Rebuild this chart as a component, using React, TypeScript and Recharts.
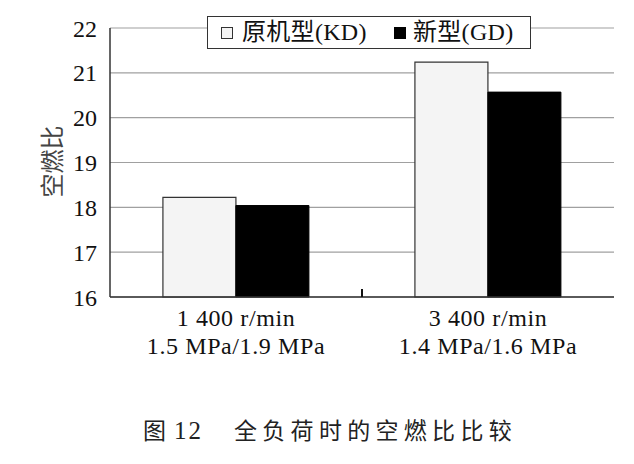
import React from 'react';
import { BarChart, Bar, XAxis, YAxis, CartesianGrid, Legend } from 'recharts';

const speeds = ['1 400 r/min', '3 400 r/min'];
const pressures = ['1.5 MPa/1.9 MPa', '1.4 MPa/1.6 MPa'];
const kdValues = [18.22, 21.24];
const gdValues = [18.04, 20.57];
const yTicks = [16, 17, 18, 19, 20, 21, 22];
const seriesNames = ['原机型(KD)', '新型(GD)'];

const data = speeds.map((s, i) => ({
  name: s,
  pressure: pressures[i],
  kd: kdValues[i],
  gd: gdValues[i],
}));

const SERIF = 'Liberation Serif, Times New Roman, Noto Sans CJK SC, serif';
const CJK = 'Noto Sans CJK SC, Liberation Serif, sans-serif';

const XTick = (props: any) => {
  const { x, y, payload, index, visibleTicksCount } = props;
  const half = payload?.offset ?? 0;
  const showBoundary = index < (visibleTicksCount ?? data.length) - 1;
  const axisY = y - 8;
  return (
    <g>
      {showBoundary && (
        <line x1={x + half} x2={x + half} y1={axisY} y2={axisY - 8} stroke="#111" strokeWidth={2} />
      )}
      <text x={x} y={y} textAnchor="middle" fontFamily={SERIF} fontSize={24} fill="#111" letterSpacing={0.6}>
        <tspan x={x} dy={21}>{payload.value}</tspan>
        <tspan x={x} dy={28}>{pressures[index] ?? data[index]?.pressure}</tspan>
      </text>
    </g>
  );
};

const LegendBox = () => (
  <div
    style={{
      position: 'relative',
      boxSizing: 'border-box',
      width: 324,
      height: 33,
      border: '1.5px solid #333',
      background: '#fff',
      fontFamily: SERIF,
      fontSize: 24,
      color: '#111',
      lineHeight: '30px',
      whiteSpace: 'nowrap',
    }}
  >
    <span style={{ position: 'absolute', left: 13, top: 10, width: 10, height: 10, border: '1px solid #333', background: '#f4f4f4' }} />
    <span style={{ position: 'absolute', left: 34, top: 0, letterSpacing: 0.3 }}>{seriesNames[0]}</span>
    <span style={{ position: 'absolute', left: 186, top: 10, width: 12, height: 12, background: '#000' }} />
    <span style={{ position: 'absolute', left: 205, top: 0, letterSpacing: 0.3 }}>{seriesNames[1]}</span>
  </div>
);

const YLabel = (props: any) => {
  const vb = props.viewBox || { x: 0, y: 0, width: 0, height: 0 };
  const cx = vb.x + 50;
  const cy = vb.y + vb.height / 2 - 1;
  return (
    <text
      x={cx}
      y={cy}
      transform={`rotate(-90 ${cx} ${cy})`}
      textAnchor="middle"
      dominantBaseline="central"
      fontFamily={CJK}
      fontSize={24}
      fill="#444"
    >
      空燃比
    </text>
  );
};

export default function App() {
  return (
    <div style={{ position: 'absolute', left: 0, top: 0, width: 634, height: 464, background: '#fff' }}>
      <BarChart
        width={634}
        height={464}
        data={data}
        margin={{ top: 28, right: 20, bottom: 107, left: 0 }}
        barCategoryGap="21%"
        barGap={0}
      >
        <CartesianGrid vertical={false} stroke="#a0a0a0" strokeWidth={1.2} />
        <XAxis
          dataKey="name"
          height={60}
          tickLine={false}
          tickSize={6}
          tickMargin={2}
          axisLine={{ stroke: '#333', strokeWidth: 1.5 }}
          tick={<XTick />}
          interval={0}
        />
        <YAxis
          width={110}
          domain={[16, 22]}
          ticks={yTicks}
          tickLine={false}
          tickSize={6}
          tickMargin={7}
          axisLine={{ stroke: '#333', strokeWidth: 1.5 }}
          tick={{ fontFamily: SERIF, fontSize: 24, fill: '#111' }}
          label={<YLabel />}
        />
        <YAxis
          yAxisId="r"
          orientation="right"
          width={0}
          domain={[16, 22]}
          ticks={yTicks}
          tick={false}
          tickLine={false}
          axisLine={{ stroke: '#888', strokeWidth: 1.2 }}
        />
        <Legend
          layout="horizontal"
          verticalAlign="middle"
          align="center"
          content={<LegendBox />}
          wrapperStyle={{ position: 'absolute', left: 207, top: 16, width: 324, height: 33 }}
        />
        <Bar dataKey="kd" name={seriesNames[0]} fill="#f4f4f4" stroke="#333" strokeWidth={1.2} isAnimationActive={false} />
        <Bar dataKey="gd" name={seriesNames[1]} fill="#000" stroke="#000" strokeWidth={1} isAnimationActive={false} />
      </BarChart>
      <div
        style={{
          position: 'absolute',
          left: 143,
          top: 414,
          whiteSpace: 'pre',
          fontFamily: CJK,
          fontSize: 23,
          color: '#222',
          lineHeight: '30px',
        }}
      >
        <span>图</span>
        <span style={{ marginLeft: 8, fontFamily: SERIF, fontSize: 25, letterSpacing: 2 }}>12</span>
        <span style={{ marginLeft: 31, letterSpacing: 5.3 }}>全负荷时的空燃比比较</span>
      </div>
    </div>
  );
}
